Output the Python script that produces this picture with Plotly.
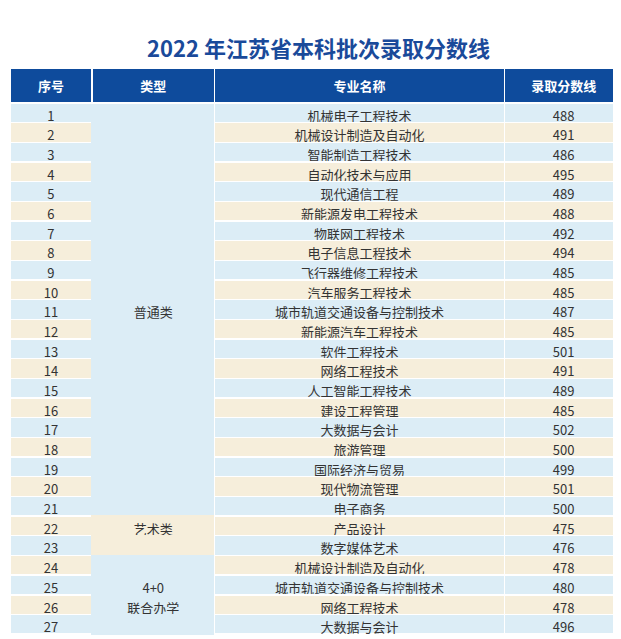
import plotly.graph_objects as go

# Table contents
seq = list(range(1, 28))
majors = ['机械电子工程技术', '机械设计制造及自动化', '智能制造工程技术', '自动化技术与应用',
          '现代通信工程', '新能源发电工程技术', '物联网工程技术', '电子信息工程技术',
          '飞行器维修工程技术', '汽车服务工程技术', '城市轨道交通设备与控制技术',
          '新能源汽车工程技术', '软件工程技术', '网络工程技术', '人工智能工程技术',
          '建设工程管理', '大数据与会计', '旅游管理', '国际经济与贸易', '现代物流管理',
          '电子商务', '产品设计', '数字媒体艺术', '机械设计制造及自动化',
          '城市轨道交通设备与控制技术', '网络工程技术', '大数据与会计']
scores = [488, 491, 486, 495, 489, 488, 492, 494, 485, 485, 487, 485, 501, 491, 489,
          485, 502, 500, 499, 501, 500, 475, 476, 478, 480, 478, 496]
# category label per row (merged groups shown once)
group_of_row = ['普通类'] * 21 + ['艺术类'] * 2 + ['4+0联合办学'] * 4
category_text = [''] * 27
category_text[10] = '普通类'
category_text[21] = '艺术类'
category_text[24] = '4+0'
category_text[25] = '联合办学'

BLUE = '#dcedf6'
BEIGE = '#f6eedb'
HEADER = '#0e4b9c'

row_fill = [BLUE if i % 2 == 0 else BEIGE for i in range(27)]
cat_fill = [BEIGE if g == '艺术类' else BLUE for g in group_of_row]

fills = [row_fill, cat_fill, row_fill, row_fill]
lines = [['white'] * 27, cat_fill, ['white'] * 27, ['white'] * 27]

fig = go.Figure(go.Table(
    columnwidth=[80, 120, 283, 116],
    header=dict(values=['<b>序号</b>', '<b>类型</b>', '<b>专业名称</b>', '<b>录取分数线</b>'],
                fill_color=HEADER, line=dict(color='white', width=1.5),
                font=dict(color='white', size=13, family='Noto Sans CJK SC'),
                align='center', height=27),
    cells=dict(values=[seq, category_text, majors, scores],
               fill_color=fills, line=dict(color=lines, width=1.5),
               font=dict(color='#333333', size=13, family='Noto Sans CJK SC'),
               align='center', height=19.67),
))

fig.update_layout(
    width=621, height=639,
    margin=dict(l=2, r=6, t=60, b=0),
    paper_bgcolor='white',
    title=dict(text='<b>2022 年江苏省本科批次录取分数线</b>', x=0.5, xanchor='center',
               y=0.935, yanchor='middle',
               font=dict(size=22, color='#1a4a9a', family='Noto Sans CJK SC')),
)

fig.write_html("out.html")
